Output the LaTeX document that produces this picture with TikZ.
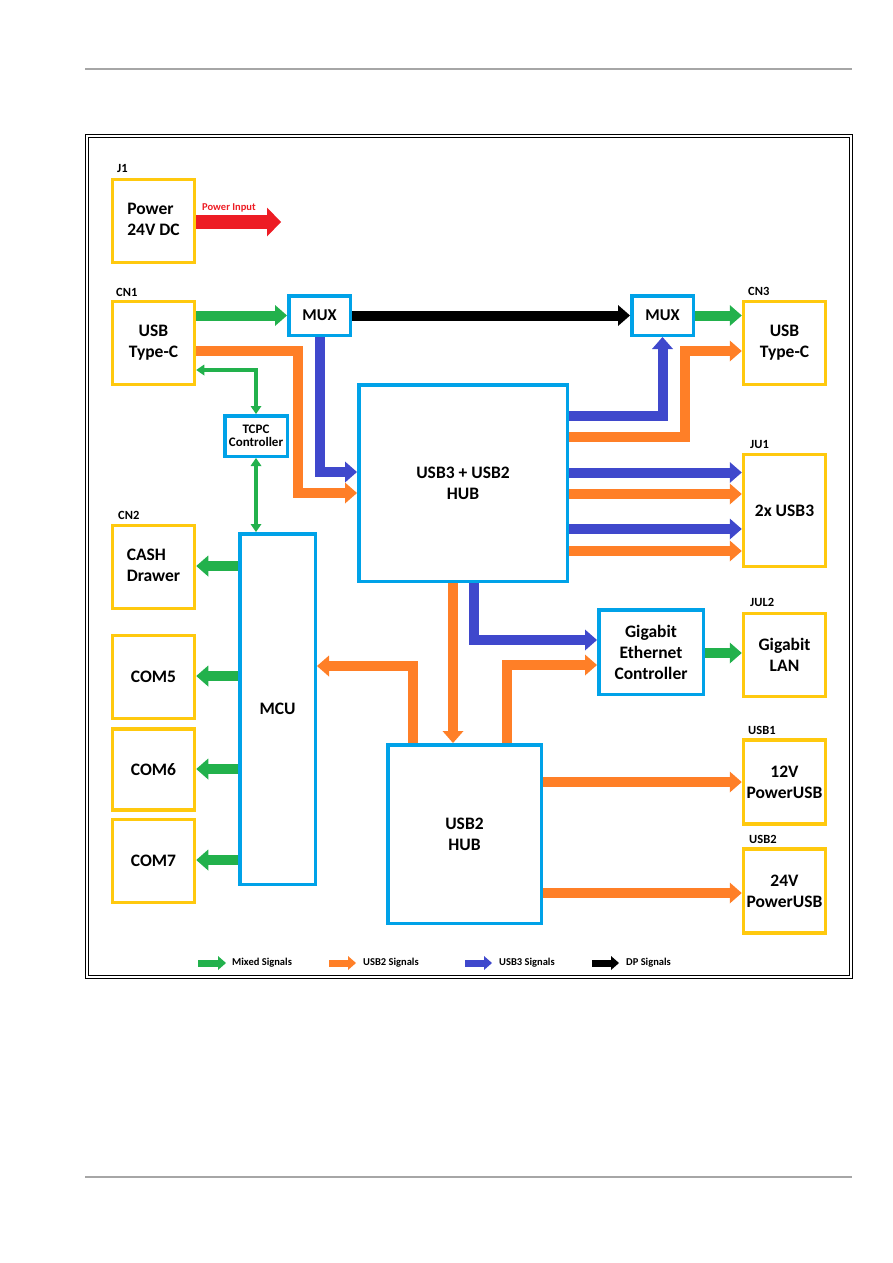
\documentclass[tikz,border=0pt]{standalone}
\usepackage{fontspec}
\setmainfont{Carlito}
\usetikzlibrary{arrows.meta}
\definecolor{cgreen}{HTML}{22B14C}
\definecolor{corange}{HTML}{FF7F27}
\definecolor{cblue}{HTML}{3F48CC}
\definecolor{cred}{HTML}{ED1C24}
\definecolor{cyel}{HTML}{FFC90E}
\definecolor{ccyan}{HTML}{00A2E8}
\begin{document}
\begin{tikzpicture}[x=1pt,y=-1pt,
  ybox/.style={draw=cyel, line width=3.5pt, inner sep=0pt, align=center,
    font=\fontsize{17.5}{21}\selectfont\bfseries},
  bbox/.style={draw=ccyan, line width=3.5pt, inner sep=0pt, align=center,
    font=\fontsize{17.5}{21}\selectfont\bfseries},
  lbl/.style={font=\fontsize{12.5}{14}\selectfont\bfseries, inner sep=0pt, anchor=base west},
  sig/.style={line width=10pt, -{Triangle[width=21pt,length=12pt,line width=0pt]}},
  mixed/.style={sig, draw=cgreen},
  usbtwo/.style={sig, draw=corange},
  usbthree/.style={sig, draw=cblue},
  dpsig/.style={sig, draw=black},
  thin/.style={draw=cgreen, line width=4pt,
    {Triangle[width=11pt,length=8pt,line width=0pt]}-{Triangle[width=11pt,length=8pt,line width=0pt]}},
  legarrow/.style={line width=7pt, -{Triangle[width=14pt,length=8pt,line width=0pt]}},
  legtext/.style={font=\fontsize{10.5}{12}\selectfont\bfseries, inner sep=0pt, anchor=west}
]
\useasboundingbox (0,0) rectangle (893,1263);
% page rules
\draw[gray!70, line width=1.2pt] (85,69) -- (852,69);
\draw[gray!70, line width=1.2pt] (85,1177) -- (852,1177);
% frame
\draw[line width=1pt] (85,134) rectangle (852,978);
\draw[line width=1pt] (88,137) rectangle (849,975);

% yellow boxes
\node[ybox, minimum width=82, minimum height=83] (j1) at (153.5,221) {\begin{tabular}{@{}l@{}}Power\\24V DC\end{tabular}};
\node[ybox, minimum width=82, minimum height=83] (cn1) at (153.5,343) {USB\\Type-C};
\node[ybox, minimum width=82, minimum height=83] (cn2) at (153.5,567) {\begin{tabular}{@{}l@{}}CASH\\Drawer\end{tabular}};
\node[ybox, minimum width=82, minimum height=83] (com5) at (153.5,677) {COM5};
\node[ybox, minimum width=82, minimum height=81] (com6) at (153.5,769.5) {COM6};
\node[ybox, minimum width=82, minimum height=83] (com7) at (153.5,861) {COM7};
\node[ybox, minimum width=82, minimum height=83] (cn3) at (784.5,343) {USB\\Type-C};
\node[ybox, minimum width=82, minimum height=112] (ju1) at (784.5,510.5) {2x USB3};
\node[ybox, minimum width=82, minimum height=83] (jul2) at (784.5,655) {Gigabit\\LAN};
\node[ybox, minimum width=82, minimum height=84] (usb1) at (784.5,782) {12V\\PowerUSB};
\node[ybox, minimum width=82, minimum height=84] (usb2) at (784.5,891) {24V\\PowerUSB};

% connector labels
\node[lbl] (j1l) at (117,172) {J1};
\node[lbl] (cn1l) at (116,296) {CN1};
\node[lbl] (cn2l) at (118,519) {CN2};
\node[lbl] (cn3l) at (748,295) {CN3};
\node[lbl] (ju1l) at (750,448) {JU1};
\node[lbl] (jul2l) at (750,606) {JUL2};
\node[lbl] (usb1l) at (748,734) {USB1};
\node[lbl] (usb2l) at (749,843) {USB2};

% blue boxes
\node[bbox, minimum width=61.5, minimum height=39.5, font=\fontsize{16.5}{19}\selectfont\bfseries] (mux1) at (319.5,315.5) {MUX};
\node[bbox, minimum width=61.5, minimum height=39.5, font=\fontsize{16.5}{19}\selectfont\bfseries] (mux2) at (662.5,315.5) {MUX};
\node[bbox, minimum width=62.5, minimum height=40.5, font=\fontsize{13}{13}\selectfont\bfseries] (tcpc) at (256,436) {TCPC\\Controller};
\node[bbox, minimum width=208.5, minimum height=196.5] (hub3) at (463,483) {USB3 + USB2\\HUB};
\node[bbox, minimum width=75.5, minimum height=350.5] (mcu) at (277.5,709) {MCU};
\node[bbox, minimum width=104.5, minimum height=84.5] (gbe) at (651,652) {Gigabit\\Ethernet\\Controller};
\node[bbox, minimum width=153.5, minimum height=178.5] (hub2) at (464.5,834) {USB2\\HUB};

% power input
\coordinate (pwrend) at (281,222);
\draw[draw=cred, line width=14pt, -{Triangle[width=29pt,length=14pt,line width=0pt]}] (j1.east |- pwrend) -- (pwrend);
\node[font=\fontsize{10.5}{12}\selectfont\bfseries, text=cred, inner sep=0pt, anchor=base west] (pwrl) at (202,210) {Power Input};

% top row
\draw[mixed] (cn1.east |- mux1.west) -- (mux1.west);
\draw[dpsig] (mux1.east) -- (mux2.west);
\draw[mixed] (mux2.east) -- (cn3.west |- mux2.east);

% CN1 to hub
\draw[usbtwo] (cn1.east |- 0,351) -| (298,493) -- (hub3.west |- 0,493);
\draw[usbthree] (mux1.south) |- (hub3.west |- 0,472);

% TCPC
\draw[thin] (cn1.east |- 0,370) -| (tcpc.north);
\draw[thin] (tcpc.south) -- (tcpc.south |- mcu.north);

% hub3 right side
\draw[usbthree] (hub3.east |- 0,416) -| (mux2.south);
\draw[usbtwo] (hub3.east |- 0,437) -| (685,351) -- (cn3.west |- 0,351);
\draw[usbthree] (hub3.east |- 0,472.5) -- (ju1.west |- 0,472.5);
\draw[usbtwo] (hub3.east |- 0,494) -- (ju1.west |- 0,494);
\draw[usbthree] (hub3.east |- 0,529) -- (ju1.west |- 0,529);
\draw[usbtwo] (hub3.east |- 0,551) -- (ju1.west |- 0,551);

% hub3 bottom
\draw[usbtwo] (453,0 |- hub3.south) -- (453,0 |- hub2.north);
\draw[usbthree] (474,0 |- hub3.south) |- (gbe.west |- 0,640);
\draw[usbtwo] (507,0 |- hub2.north) |- (gbe.west |- 0,665);
\draw[usbtwo] (413,0 |- hub2.north) |- (mcu.east |- 0,666);
\draw[mixed] (gbe.east |- 0,653) -- (jul2.west |- 0,653);

% MCU to left
\draw[mixed] (mcu.west |- 0,566) -- (cn2.east |- 0,566);
\draw[mixed] (mcu.west |- 0,676) -- (com5.east |- 0,676);
\draw[mixed] (mcu.west |- 0,769) -- (com6.east |- 0,769);
\draw[mixed] (mcu.west |- 0,860) -- (com7.east |- 0,860);

% hub2 to right
\draw[usbtwo] (hub2.east |- 0,782) -- (usb1.west |- 0,782);
\draw[usbtwo] (hub2.east |- 0,893) -- (usb2.west |- 0,893);

% legend
\coordinate (lga1) at (198,963); \coordinate (lga2) at (226,963);
\coordinate (lgb1) at (329,963); \coordinate (lgb2) at (356,963);
\coordinate (lgc1) at (465,963); \coordinate (lgc2) at (492,963);
\coordinate (lgd1) at (592,963); \coordinate (lgd2) at (619,963);
\draw[legarrow, draw=cgreen] (lga1) -- (lga2);
\draw[legarrow, draw=corange] (lgb1) -- (lgb2);
\draw[legarrow, draw=cblue] (lgc1) -- (lgc2);
\draw[legarrow, draw=black] (lgd1) -- (lgd2);
\node[legtext] (lgat) at (232,963) {Mixed Signals};
\node[legtext] (lgbt) at (363,963) {USB2 Signals};
\node[legtext] (lgct) at (499,963) {USB3 Signals};
\node[legtext] (lgdt) at (626,963) {DP Signals};
\end{tikzpicture}
\end{document}
